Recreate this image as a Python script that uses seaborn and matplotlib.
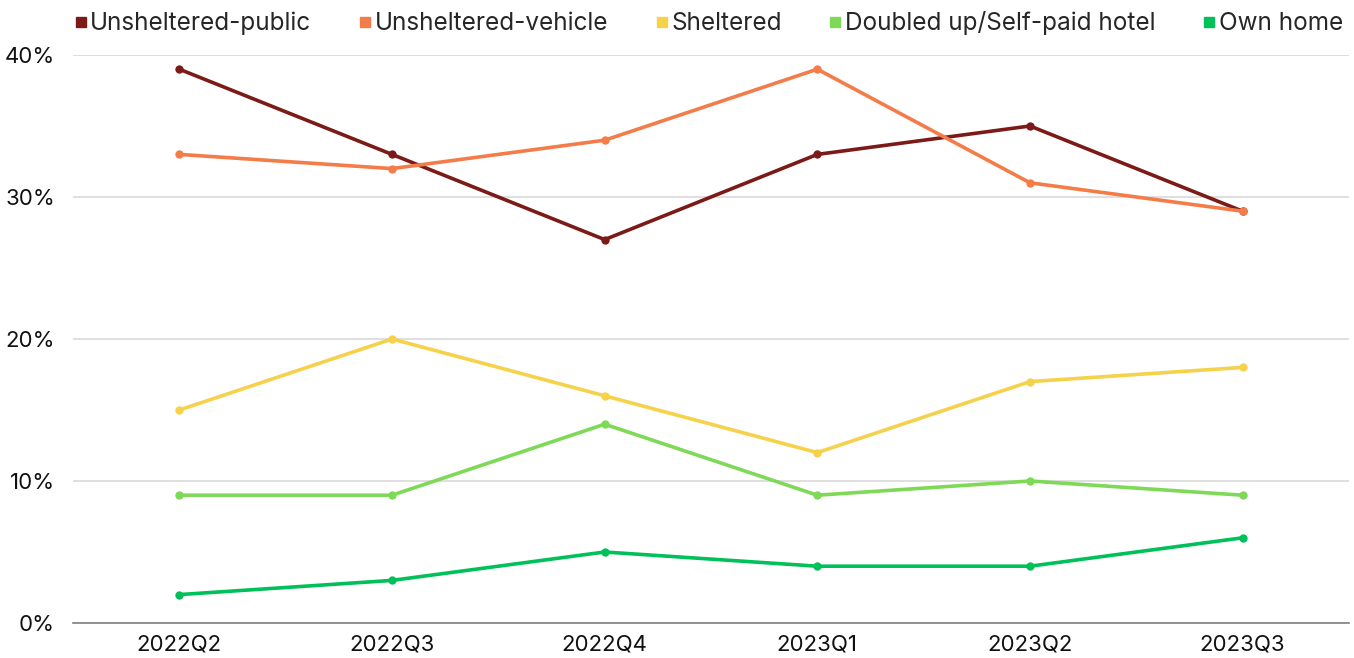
import pandas as pd
import matplotlib
matplotlib.use("Agg")
import matplotlib.pyplot as plt
import seaborn as sns
from matplotlib.ticker import PercentFormatter
from matplotlib.lines import Line2D

quarters = ["2022Q2", "2022Q3", "2022Q4", "2023Q1", "2023Q2", "2023Q3"]
unsheltered_public = [39, 33, 27, 33, 35, 29]
unsheltered_vehicle = [33, 32, 34, 39, 31, 29]
sheltered = [15, 20, 16, 12, 17, 18]
doubled_up = [9, 9, 14, 9, 10, 9]
own_home = [2, 3, 5, 4, 4, 6]

series_names = ["Unsheltered-public", "Unsheltered-vehicle", "Sheltered",
                "Doubled up/Self-paid hotel", "Own home"]
colors = ["#7B1A17", "#F47C48", "#F5D24A", "#7ED957", "#00C05A"]

df = pd.DataFrame({
    "quarter": quarters * 5,
    "series": sum([[n] * len(quarters) for n in series_names], []),
    "value": unsheltered_public + unsheltered_vehicle + sheltered + doubled_up + own_home,
})

sns.set_style("white")
plt.rcParams['font.family'] = ['Inter', 'DejaVu Sans']

fig = plt.figure(figsize=(13.54, 6.58), dpi=100)
ax = fig.add_axes([73 / 1354, 35 / 658, 1276 / 1354, 568 / 658])

sns.lineplot(data=df, x="quarter", y="value", hue="series", hue_order=series_names,
             palette=colors, marker="o", markersize=6, markeredgewidth=0,
             linewidth=2.6, sort=False, legend=False, ax=ax)

ax.set_xlim(-0.5, 5.5)
ax.set_ylim(0, 40)
ax.set_yticks([0, 10, 20, 30, 40])
ax.yaxis.set_major_formatter(PercentFormatter(decimals=0))
ax.grid(axis="y", color="#D9D9D9", linewidth=1.2)
ax.set_axisbelow(True)
for s in ["top", "right", "left"]:
    ax.spines[s].set_visible(False)
ax.spines["bottom"].set_color("#808080")
ax.spines["bottom"].set_linewidth(1.2)
ax.tick_params(axis="both", length=0, labelsize=16, colors="#111111", pad=8)
ax.tick_params(axis="y", pad=13)
ax.set_xlabel("")
ax.set_ylabel("")

handles = [Line2D([], [], marker="s", linestyle="", color=c, markersize=7) for c in colors]
fig.legend(handles, series_names, loc="center", bbox_to_anchor=(0.523, 0.965), ncol=5,
           frameon=False, fontsize=17.5, handletextpad=0.1, columnspacing=1.9,
           handlelength=0.6)

fig.savefig("out.png", dpi=100)
